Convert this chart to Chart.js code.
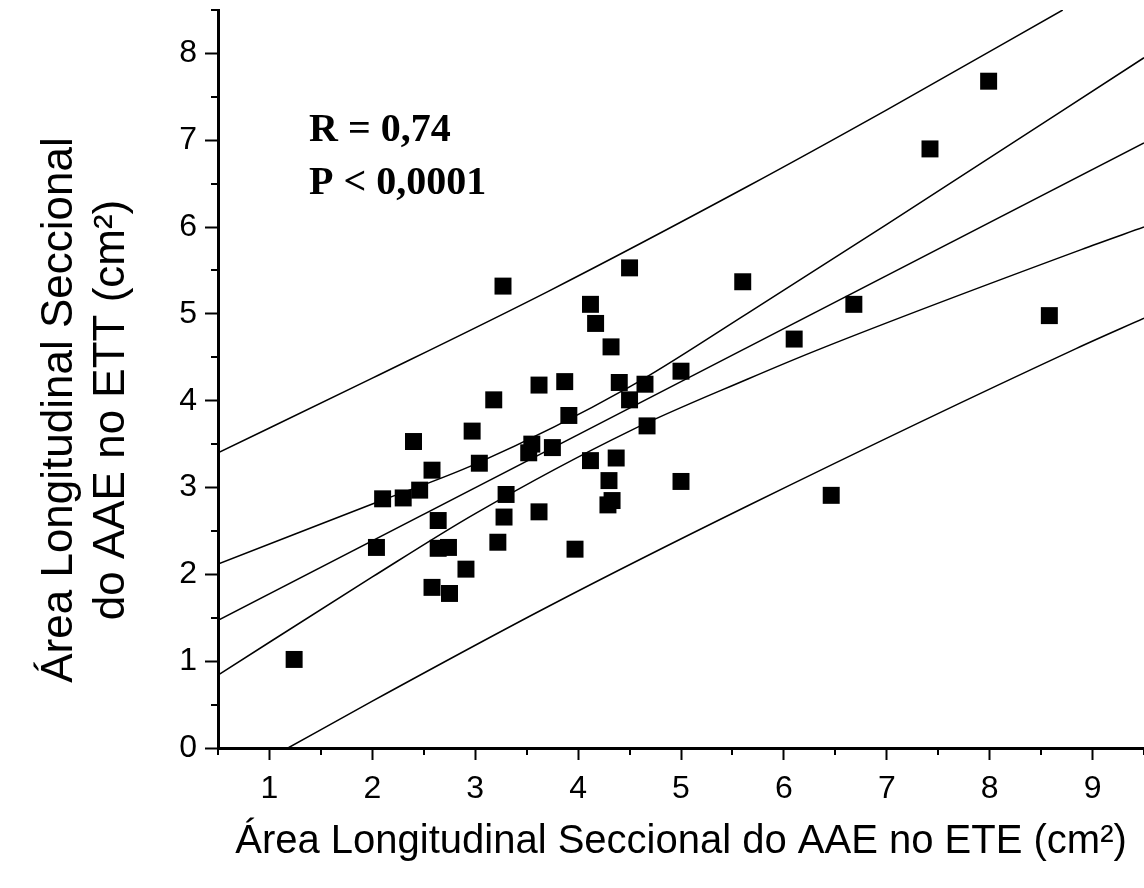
<!DOCTYPE html>
<html lang="pt-br">
<head>
<meta charset="UTF-8">
<title>Área Longitudinal Seccional do AAE</title>
<style>
    body { margin: 0; background: #fff; }
    #caixa { width: 1144px; height: 888px; }
</style>
</head>
<body>
<div id="caixa"><canvas id="grafico" width="1144" height="888"></canvas></div>
<script src="https://cdn.jsdelivr.net/npm/chart.js"></script>
<script>
    // pontos: área no ETE (x) e no ETT (y), cm2
    var areaETE = [1.24, 2.04, 2.10, 2.30, 2.46, 2.40, 2.58, 2.64, 2.64, 2.74,
                   2.58, 2.75, 2.91, 2.97, 3.04, 3.27, 3.18, 3.22, 3.30, 3.28,
                   3.52, 3.55, 3.75, 3.62, 3.62, 3.87, 3.91, 3.97, 4.12, 4.17,
                   4.32, 4.12, 4.37, 4.40, 4.50, 4.50, 4.65, 4.67, 4.30, 4.33,
                   4.29, 5.00, 5.00, 5.60, 6.10, 6.68, 6.46, 7.42, 7.99, 8.58];
    var areaETT = [1.02, 2.31, 2.87, 2.88, 2.97, 3.53, 3.20, 2.62, 2.30, 2.31,
                   1.85, 1.78, 2.06, 3.65, 3.28, 5.32, 4.01, 2.37, 2.92, 2.66,
                   3.40, 3.50, 3.46, 4.18, 2.72, 4.22, 3.83, 2.29, 5.11, 4.89,
                   4.62, 3.31, 3.34, 4.21, 4.01, 5.53, 4.19, 3.71, 3.08, 2.85,
                   2.80, 4.34, 3.07, 5.37, 4.71, 5.11, 2.91, 6.90, 7.68, 4.98];

    // reta de regressão
    var retaX = [0.5, 9.5];
    var retaY = [1.47, 6.97];

    // intervalo de confiança (curvas internas)
    var icSupX = [0.5, 2.0, 3.0, 4.5, 5.65, 7.0, 9.5];
    var icSupY = [2.12, 2.81, 3.27, 4.16, 5.01, 6.03, 7.95];
    var icInfX = [0.5, 2.0, 3.0, 4.5, 5.65, 6.36, 8.89, 9.5];
    var icInfY = [0.84, 1.97, 2.70, 3.65, 4.25, 4.60, 5.74, 6.00];

    // intervalo de predição (curvas externas)
    var ipSupX = [0.5, 2.0, 3.71, 5.65, 7.0, 8.71];
    var ipSupY = [3.40, 4.26, 5.26, 6.47, 7.35, 8.50];
    var ipInfX = [1.18, 2.0, 3.71, 5.65, 8.84, 9.5];
    var ipInfY = [0.00, 0.54, 1.63, 2.79, 4.60, 4.95];

    // marcas dos eixos
    var ticksX = [1, 2, 3, 4, 5, 6, 7, 8, 9];
    var ticksY = [0, 1, 2, 3, 4, 5, 6, 7, 8];
    var menoresX = [0.5, 1.5, 2.5, 3.5, 4.5, 5.5, 6.5, 7.5, 8.5, 9.5];
    var menoresY = [0.5, 1.5, 2.5, 3.5, 4.5, 5.5, 6.5, 7.5, 8.5];

    var textoY = ['Área Longitudinal Seccional', 'do AAE no ETT (cm²)'];
    var textoX = 'Área Longitudinal Seccional do AAE no ETE (cm²)';
    var estatisticas = ['R = 0,74', 'P < 0,0001'];

    function juntar(xs, ys) {
        return xs.map(function (x, i) { return { x: x, y: ys[i] }; });
    }

    function curva(xs, ys) {
        return {
            data: juntar(xs, ys),
            showLine: true,
            borderColor: '#000',
            borderWidth: 1.5,
            pointRadius: 0,
            cubicInterpolationMode: 'monotone',
            fill: false
        };
    }

    // sem folga extra para os rótulos das pontas
    function semFolga(s) {
        s.paddingTop = 0;
        s.paddingBottom = 0;
        s.paddingLeft = 0;
        s.paddingRight = 0;
    }

    // desenha as marcas menores, o título do eixo y e o texto do R
    var extras = {
        id: 'extras',
        afterDraw: function (chart) {
            var ctx = chart.ctx;
            var area = chart.chartArea;
            var sx = chart.scales.x;
            var sy = chart.scales.y;
            ctx.save();
            ctx.strokeStyle = '#000';
            ctx.lineWidth = 2;
            ctx.beginPath();
            menoresX.forEach(function (v) {
                var px = Math.round(sx.getPixelForValue(v));
                ctx.moveTo(px, area.bottom);
                ctx.lineTo(px, area.bottom + 7);
            });
            menoresY.forEach(function (v) {
                var py = Math.round(sy.getPixelForValue(v));
                ctx.moveTo(area.left, py);
                ctx.lineTo(area.left - 7, py);
            });
            ctx.stroke();

            ctx.fillStyle = '#000';
            ctx.font = '44px "Liberation Sans", Arial, sans-serif';
            ctx.textAlign = 'center';
            ctx.textBaseline = 'middle';
            ctx.translate(60, 410);
            ctx.rotate(-Math.PI / 2);
            ctx.fillText(textoY[0], 0, 0);
            ctx.fillText(textoY[1], 0, 52);
            ctx.restore();

            ctx.save();
            ctx.fillStyle = '#000';
            ctx.font = 'bold 40px "Liberation Serif", "Times New Roman", serif';
            ctx.textAlign = 'left';
            ctx.textBaseline = 'alphabetic';
            ctx.fillText(estatisticas[0], 309, 141);
            ctx.fillText(estatisticas[1], 309, 194);
            ctx.restore();
        }
    };

    new Chart(document.getElementById('grafico'), {
        type: 'scatter',
        data: {
            datasets: [
                {
                    data: juntar(areaETE, areaETT),
                    pointStyle: 'rect',
                    pointRadius: 12,
                    pointHoverRadius: 12,
                    backgroundColor: '#000',
                    borderColor: '#000',
                    borderWidth: 0
                },
                curva(retaX, retaY),
                curva(icSupX, icSupY),
                curva(icInfX, icInfY),
                curva(ipSupX, ipSupY),
                curva(ipInfX, ipInfY)
            ]
        },
        options: {
            responsive: false,
            animation: false,
            layout: { autoPadding: false, padding: { top: 10, right: 0, left: 0, bottom: 0 } },
            plugins: {
                legend: { display: false },
                tooltip: { enabled: false }
            },
            scales: {
                x: {
                    type: 'linear',
                    min: 0.5,
                    max: 9.5,
                    afterFit: function (s) { s.height = 140; semFolga(s); },
                    afterBuildTicks: function (s) {
                        s.ticks = ticksX.map(function (v) { return { value: v }; });
                    },
                    border: { display: true, color: '#000', width: 3 },
                    grid: { drawOnChartArea: false, drawTicks: true, tickLength: 12, tickWidth: 2, tickColor: '#000' },
                    ticks: {
                        color: '#000',
                        padding: 10,
                        maxRotation: 0,
                        autoSkip: false,
                        font: { family: '"Liberation Sans", Arial, sans-serif', size: 32 }
                    },
                    title: {
                        display: true,
                        text: textoX,
                        color: '#000',
                        padding: { top: 0, bottom: 22 },
                        font: { family: '"Liberation Sans", Arial, sans-serif', size: 40 }
                    }
                },
                y: {
                    type: 'linear',
                    min: 0,
                    max: 8.5,
                    afterFit: function (s) { s.width = 218; semFolga(s); },
                    afterBuildTicks: function (s) {
                        s.ticks = ticksY.map(function (v) { return { value: v }; });
                    },
                    border: { display: true, color: '#000', width: 3 },
                    grid: { drawOnChartArea: false, drawTicks: true, tickLength: 13, tickWidth: 2, tickColor: '#000' },
                    ticks: {
                        color: '#000',
                        padding: 8,
                        autoSkip: false,
                        font: { family: '"Liberation Sans", Arial, sans-serif', size: 32 }
                    }
                }
            }
        },
        plugins: [extras]
    });
</script>
</body>
</html>
